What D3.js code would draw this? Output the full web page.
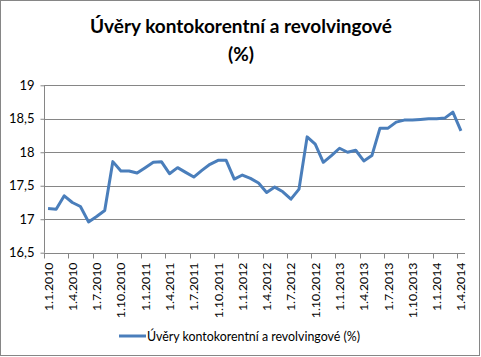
<!DOCTYPE html>
<html><head><meta charset="utf-8">
<script src="https://cdn.jsdelivr.net/npm/d3@7"></script>
<style>body{margin:0;background:#fff}svg{display:block}text{font-family:Lato,"Open Sans",sans-serif}</style>
</head><body>
<svg id="c" width="481" height="357"></svg>
<script>
const title = ["Úvěry kontokorentní a revolvingové", "(%)"];
const seriesName = "Úvěry kontokorentní a revolvingové (%)";
const startYear = 2010, startMonth = 1, nMonths = 52;
const values = [17.16,17.15,17.35,17.25,17.19,16.96,17.04,17.13,17.86,17.72,17.72,17.69,
  17.77,17.85,17.86,17.68,17.77,17.70,17.63,17.73,17.82,17.88,17.88,17.60,
  17.66,17.61,17.54,17.40,17.48,17.41,17.30,17.45,18.23,18.12,17.85,17.95,
  18.06,18.00,18.03,17.87,17.95,18.36,18.36,18.45,18.48,18.48,18.49,18.50,
  18.50,18.51,18.60,18.32];
const yTicks = [16.5,17,17.5,18,18.5,19];
const dates = d3.range(nMonths).map(i => {
  const m = (startMonth - 1 + i) % 12 + 1, y = startYear + Math.floor((startMonth - 1 + i) / 12);
  return `1.${m}.${y}`;
});

const svg = d3.select("#c");
svg.append("rect").attr("x",0.5).attr("y",0.5).attr("width",479).attr("height",355)
  .attr("fill","#fff").attr("stroke","#868686");

const L = 44, R = 465, T = 85.3, B = 252.7;
const x = d3.scaleBand().domain(dates).range([L, R]).padding(0);
const y = d3.scaleLinear().domain([16.5, 19]).range([B, T]);
const fmt = v => String(v).replace(".", ",");

// gridlines
svg.append("g").selectAll("line").data(yTicks.slice(1)).join("line")
  .attr("x1", L).attr("x2", R).attr("y1", d => Math.round(y(d)) + 0.5).attr("y2", d => Math.round(y(d)) + 0.5)
  .attr("stroke", "#868686").attr("stroke-width", 1);

// y axis
const ya = svg.append("g").attr("transform", `translate(${L + 0.5},0)`)
  .call(d3.axisLeft(y).tickValues(yTicks).tickFormat(fmt).tickSize(4).tickPadding(6));
ya.select(".domain").attr("stroke", "#868686").attr("d", `M0,${T}V${B}`);
ya.selectAll(".tick line").attr("stroke", "#868686");
ya.selectAll(".tick text").attr("font-size", 13).attr("fill", "#000").style("font-family", "Lato");

// x axis
const xa = svg.append("g").attr("transform", `translate(0,${Math.round(B) + 0.5})`);
xa.append("line").attr("x1", L).attr("x2", R).attr("stroke", "#868686");
const tickIdx = d3.range(0, nMonths, 3);
xa.selectAll("line.t").data(tickIdx).join("line").attr("class","t")
  .attr("x1", i => Math.round(x(dates[i])) + 0.5).attr("x2", i => Math.round(x(dates[i])) + 0.5)
  .attr("y1", 0).attr("y2", 5).attr("stroke", "#868686");
xa.selectAll("text").data(tickIdx).join("text")
  .attr("transform", i => `translate(${x(dates[i]) + x.bandwidth() / 2 + 4.5},9) rotate(-90)`)
  .attr("text-anchor", "end").attr("font-size", 12.3).attr("fill", "#000")
  .text(i => dates[i]);

// line
const line = d3.line().x((d, i) => x(dates[i]) + x.bandwidth() / 2).y(d => y(d));
svg.append("path").datum(values).attr("d", line).attr("fill", "none")
  .attr("stroke", "#4A7EBB").attr("stroke-width", 3).attr("stroke-linejoin", "round");

// title
const tt = svg.append("text").attr("text-anchor", "middle").attr("font-weight", "bold").attr("font-size", 19).attr("fill","#000");
tt.append("tspan").attr("x", 241).attr("y", 33).text(title[0]);
tt.append("tspan").attr("x", 241).attr("y", 61).text(title[1]);

// legend
const lg = svg.append("g");
lg.append("line").attr("x1", 119).attr("x2", 146).attr("y1", 336).attr("y2", 336)
  .attr("stroke", "#4A7EBB").attr("stroke-width", 3);
lg.append("text").attr("x", 147).attr("y", 340.5).attr("font-size", 12.4).attr("fill","#000").text(seriesName);
</script>
</body></html>
